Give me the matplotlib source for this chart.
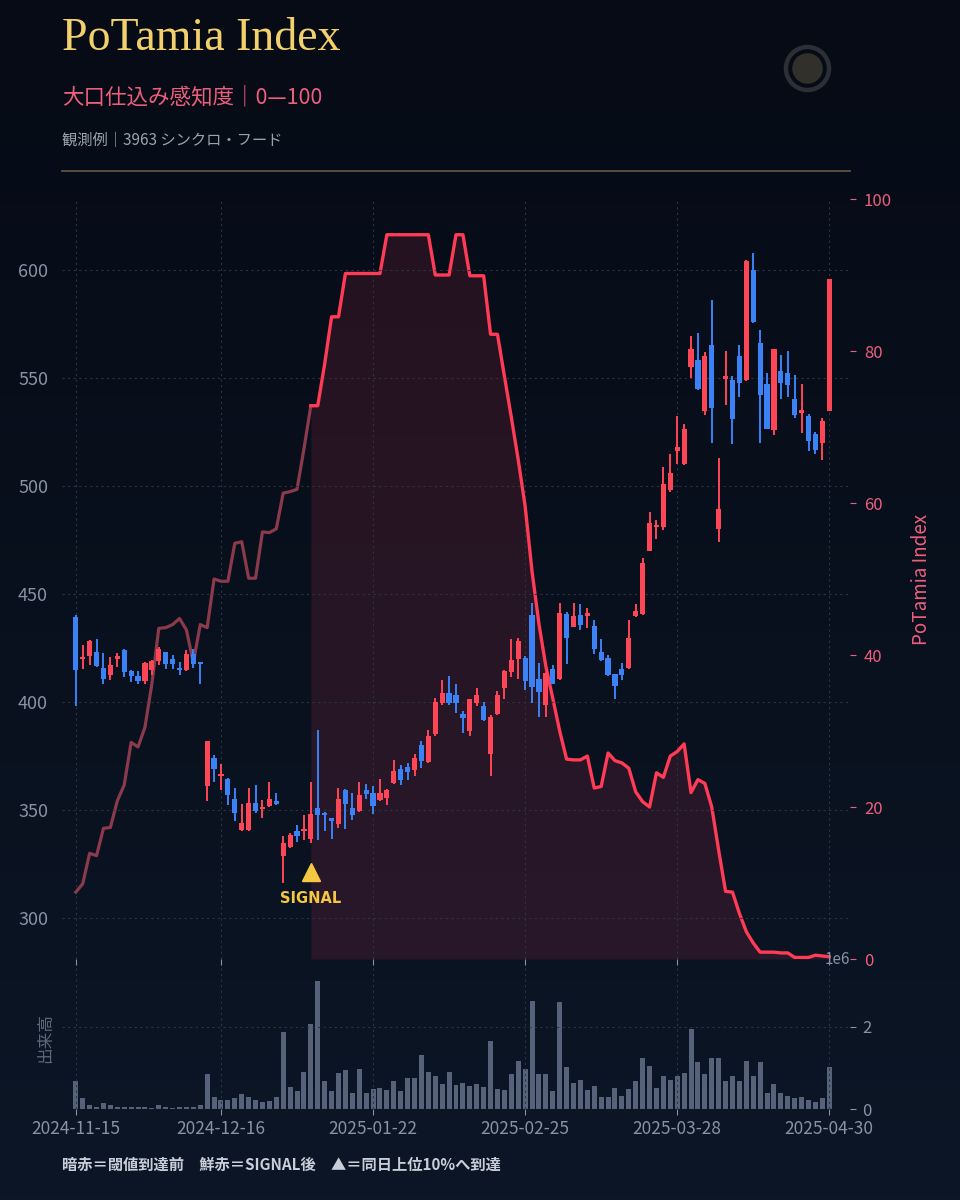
import numpy as np
import matplotlib
matplotlib.use("Agg")
import matplotlib.pyplot as plt
from matplotlib.lines import Line2D
from matplotlib.colors import LinearSegmentedColormap

plt.rcParams['font.family'] = ['Noto Sans CJK JP', 'DejaVu Sans']

# ---- data ----
date_labels = ['2024-11-15', '2024-12-16', '2025-01-22', '2025-02-25', '2025-03-28', '2025-04-30']

opens = [439.2, 419.8, 421.3, 423.0, 415.9, 412.5, 419.8, 424.1, 414.5, 412.3,
         409.6, 414.8, 419.0, 423.0, 420.0, 415.9, 414.8, 422.2, 418.2, 361.1,
         373.9, 365.9, 364.2, 355.0, 340.7, 340.7, 353.1, 350.3, 352.0, 354.2,
         328.7, 332.7, 340.4, 340.1, 336.4, 350.8, 348.8, 346.0, 343.5, 359.3,
         350.8, 349.7, 359.3, 357.7, 354.6, 355.4, 362.4, 369.0, 369.8, 368.5,
         380.1, 372.3, 385.0, 399.4, 404.0, 403.2, 394.3, 386.7, 399.4, 398.3,
         375.8, 394.4, 406.3, 413.7, 419.8, 420.2, 440.3, 410.9, 398.6, 415.1,
         410.6, 441.0, 434.9, 440.3, 439.9, 435.1, 423.0, 420.2, 412.9, 415.1,
         415.6, 439.9, 440.8, 470.1, 481.0, 480.9, 498.4, 516.5, 510.2, 555.2,
         558.3, 534.9, 565.3, 480.0, 549.7, 549.4, 560.2, 549.1, 600.3, 566.1,
         547.1, 525.9, 553.4, 552.2, 540.2, 534.0, 532.6, 524.1, 519.8, 534.9]
highs = [440.3, 426.4, 428.8, 429.0, 422.5, 421.0, 422.8, 424.5, 414.8, 414.3,
         418.6, 419.5, 425.4, 423.3, 421.8, 418.6, 424.1, 424.8, 418.4, 382.1,
         375.4, 371.3, 364.7, 360.2, 352.6, 360.2, 361.4, 354.6, 362.8, 357.9,
         338.0, 339.2, 343.1, 347.7, 362.8, 387.0, 349.0, 346.2, 360.0, 359.6,
         357.7, 362.8, 361.9, 361.1, 364.2, 359.6, 373.1, 370.8, 371.6, 375.9,
         382.1, 387.0, 401.7, 410.2, 412.2, 408.2, 396.0, 401.5, 406.3, 399.9,
         394.0, 405.0, 414.8, 429.0, 429.9, 421.3, 445.7, 417.9, 414.0, 417.1,
         446.0, 441.8, 446.0, 445.4, 443.4, 438.2, 429.0, 421.8, 413.2, 417.9,
         438.2, 445.3, 466.8, 488.1, 484.2, 508.9, 515.0, 532.3, 529.0, 569.4,
         570.9, 562.2, 586.1, 512.9, 562.6, 550.9, 565.3, 604.6, 608.0, 572.3,
         552.2, 563.6, 560.6, 562.6, 551.4, 547.3, 533.3, 525.2, 531.4, 596.1]
lows = [398.1, 415.1, 417.1, 416.4, 408.3, 410.2, 416.4, 411.4, 409.4, 408.3,
        408.3, 412.5, 417.1, 415.3, 415.3, 412.5, 414.2, 415.6, 408.3, 354.3,
        363.1, 359.1, 352.3, 345.1, 340.4, 340.4, 348.5, 346.2, 351.5, 352.3,
        316.0, 332.2, 335.4, 336.2, 334.9, 336.2, 340.4, 336.4, 341.5, 341.0,
        345.4, 348.9, 355.1, 348.1, 354.0, 352.3, 362.1, 361.7, 363.9, 365.6,
        369.3, 371.9, 384.5, 398.6, 398.8, 395.0, 385.8, 384.4, 398.1, 391.2,
        365.6, 393.9, 401.2, 411.7, 410.9, 405.6, 399.4, 393.2, 393.2, 408.3,
        410.3, 417.6, 434.6, 433.3, 434.1, 422.2, 419.0, 412.0, 401.2, 410.2,
        415.3, 439.6, 440.5, 469.8, 475.3, 479.9, 497.3, 510.2, 509.9, 550.3,
        544.5, 532.9, 520.0, 474.3, 537.6, 519.4, 541.4, 548.8, 575.8, 520.0,
        526.4, 523.6, 540.6, 541.4, 531.4, 524.4, 516.3, 515.1, 512.3, 534.9]
closes = [414.8, 421.0, 428.4, 416.8, 410.5, 417.1, 421.3, 414.0, 412.0, 409.9,
          417.9, 419.1, 424.4, 417.6, 417.6, 414.8, 422.2, 417.6, 417.5, 382.1,
          368.8, 366.7, 356.9, 348.5, 343.8, 353.1, 349.7, 351.0, 355.1, 352.8,
          334.9, 338.4, 338.0, 340.7, 348.0, 347.7, 347.8, 345.1, 354.9, 352.6,
          347.7, 356.9, 357.4, 351.9, 358.0, 359.3, 368.2, 363.9, 367.7, 373.9,
          372.8, 384.3, 399.9, 404.0, 399.4, 399.4, 392.8, 401.2, 403.2, 391.7,
          393.2, 403.2, 414.5, 419.4, 428.4, 409.9, 406.8, 404.7, 413.6, 408.6,
          441.4, 429.9, 440.0, 435.6, 441.1, 424.8, 419.4, 412.5, 407.6, 412.5,
          429.9, 442.4, 464.2, 483.0, 482.2, 501.2, 506.1, 518.1, 526.4, 563.3,
          544.8, 560.2, 536.0, 489.2, 550.9, 530.9, 547.8, 604.3, 576.1, 542.2,
          526.7, 563.3, 547.8, 546.8, 532.9, 535.2, 521.0, 516.7, 530.3, 596.1]

potamia = [8.8, 9.9, 13.9, 13.6, 17.2, 17.3, 20.8, 22.9, 28.5, 27.9,
           30.5, 36.2, 43.5, 43.6, 44.0, 44.8, 43.3, 39.0, 44.0, 43.6,
           50.0, 49.7, 49.7, 54.7, 54.9, 50.1, 50.1, 56.2, 56.1, 56.6,
           61.3, 61.5, 61.8, 67.1, 72.8, 72.8, 78.3, 84.5, 84.5, 90.2,
           90.2, 90.2, 90.2, 90.2, 90.2, 95.3, 95.3, 95.3, 95.3, 95.3,
           95.3, 95.3, 90.0, 90.0, 90.0, 95.3, 95.3, 89.9, 89.9, 89.9,
           82.2, 82.2, 76.7, 71.3, 65.7, 59.6, 51.0, 44.1, 38.5, 34.3,
           30.0, 26.3, 26.2, 26.2, 26.7, 22.5, 22.7, 27.1, 26.1, 25.8,
           25.1, 22.0, 20.7, 20.0, 24.5, 23.9, 26.7, 27.3, 28.3, 21.9,
           23.6, 23.1, 20.0, 14.3, 8.9, 8.8, 6.0, 3.6, 2.1, 0.9,
           0.9, 0.9, 0.8, 0.8, 0.2, 0.2, 0.2, 0.5, 0.4, 0.3]

volume = [0.67, 0.26, 0.10, 0.06, 0.14, 0.10, 0.05, 0.06, 0.06, 0.06,
          0.06, 0.03, 0.10, 0.06, 0.02, 0.04, 0.04, 0.04, 0.09, 0.86,
          0.28, 0.22, 0.22, 0.26, 0.36, 0.28, 0.22, 0.18, 0.20, 0.30,
          1.86, 0.54, 0.44, 0.90, 2.07, 3.11, 0.67, 0.43, 0.87, 0.94,
          0.40, 0.98, 0.40, 0.48, 0.52, 0.47, 0.67, 0.43, 0.76, 0.75,
          1.30, 0.89, 0.81, 0.60, 0.89, 0.58, 0.63, 0.55, 0.60, 0.53,
          1.66, 0.49, 0.45, 0.86, 1.17, 0.96, 2.61, 0.84, 0.86, 0.43,
          2.59, 1.03, 0.64, 0.70, 0.47, 0.55, 0.28, 0.28, 0.51, 0.32,
          0.49, 0.67, 1.24, 1.04, 0.51, 0.81, 0.70, 0.79, 0.88, 1.94,
          1.13, 0.85, 1.24, 1.24, 0.68, 0.81, 0.67, 1.17, 0.79, 1.13,
          0.39, 0.60, 0.39, 0.31, 0.26, 0.30, 0.21, 0.17, 0.27, 1.02]
volume = [v * 1e6 for v in volume]

signal_idx = 34

# ---- colours ----
BG_TOP = '#060b15'
BG_BOT = '#0c1626'
GOLD = '#f2d06b'
PINK = '#ec5f7c'
RED = '#ff4656'
BLUE = '#3b82f6'
LINE_RED = '#ff3b55'
GRAY = '#8892a4'
GRID = '#2a3447'

n = len(closes)
x = np.arange(n)
o = np.array(opens); h = np.array(highs); l = np.array(lows); c = np.array(closes)
up = c >= o
cols = np.where(up, RED, BLUE)

fig = plt.figure(figsize=(9.6, 12), dpi=100)

# background gradient
bg = fig.add_axes([0, 0, 1, 1], zorder=-10)
grad = np.linspace(0, 1, 256).reshape(-1, 1)
cmap = LinearSegmentedColormap.from_list('bg', [BG_TOP, BG_BOT])
bg.imshow(grad, aspect='auto', cmap=cmap, extent=[0, 1, 1, 0])
bg.axis('off')

# header
fig.text(62/960, 1 - 50/1200, 'PoTamia Index', color=GOLD, fontsize=33,
         family=['Liberation Serif', 'DejaVu Serif'], ha='left', va='baseline')
fig.text(62/960, 1 - 103/1200, '大口仕込み感知度｜0—100', color=PINK, fontsize=15.5,
         ha='left', va='baseline')
fig.text(62/960, 1 - 145/1200, '観測例｜3963 シンクロ・フード', color='#9aa2ae', fontsize=11,
         ha='left', va='baseline')
fig.add_artist(Line2D([62/960, 850/960], [1 - 171/1200, 1 - 171/1200], color='#5e5540',
                      lw=1.3, transform=fig.transFigure))
# round badge: outer ring + inner disc
fig.add_artist(Line2D([807/960], [1 - 68/1200], marker='o', markersize=31,
                      markerfacecolor='none', markeredgecolor='#2c3036',
                      markeredgewidth=3.2, transform=fig.transFigure))
fig.add_artist(Line2D([807/960], [1 - 68/1200], marker='o', markersize=22,
                      markerfacecolor='#31302b', markeredgecolor='none',
                      transform=fig.transFigure))

# main axes: index on the base axes (right side), price on twin (left side)
ax_idx = fig.add_axes([62/960, 1 - 959/1200, 788/960, 760/1200])
ax_idx.set_facecolor('none')
ax = ax_idx.twinx()

ax_idx.plot(x[:signal_idx + 1], potamia[:signal_idx + 1], color='#8a3a4b', lw=2.3,
            solid_joinstyle='round')
ax_idx.plot(x[signal_idx:], potamia[signal_idx:], color=LINE_RED, lw=2.4,
            solid_joinstyle='round')
ax_idx.fill_between(x[signal_idx:], 0, potamia[signal_idx:], color='#ff3b5c', alpha=0.12, lw=0)
ax_idx.set_ylim(0, 100)
ax_idx.yaxis.tick_right()
ax_idx.yaxis.set_label_position('right')
ax_idx.set_yticks([0, 20, 40, 60, 80, 100])
ax_idx.tick_params(axis='y', colors=PINK, labelsize=12, length=4, pad=6)
ax_idx.set_ylabel('PoTamia Index', color=PINK, fontsize=13.5, labelpad=14)
ax_idx.tick_params(axis='x', colors=GRAY, length=4, labelbottom=False)

# candles
ax.vlines(x, l, h, colors=cols, lw=1.4, zorder=3)
body_lo = np.minimum(o, c)
body_h = np.maximum(np.abs(c - o), 1.0)
ax.bar(x, body_h, bottom=body_lo, width=0.75, color=cols, zorder=4, lw=0)

# signal marker
ax.plot([signal_idx], [lows[signal_idx] * 0.96], marker='^', markersize=13, color='#f5c842',
        lw=0, zorder=5)
ax.text(signal_idx, lows[signal_idx] * 0.96 - 9, 'SIGNAL', color='#f5c842', fontsize=10.5,
        fontweight='bold', ha='center', va='top', family=['DejaVu Sans'], zorder=5)

ax.set_ylim(281, 633)
ax.yaxis.tick_left()
ax.set_yticks([300, 350, 400, 450, 500, 550, 600])
ax.tick_params(axis='y', colors=GRAY, labelsize=13, length=0, pad=10)
ax.grid(axis='y', color=GRID, ls=(0, (2, 3)), lw=0.8)

ax_idx.set_xlim(-2, n + 2)
ticks = np.linspace(0, n - 1, 6).astype(int)
ax_idx.set_xticks(ticks)
ax_idx.grid(axis='x', color=GRID, ls=(0, (2, 3)), lw=0.8)
for a in (ax, ax_idx):
    for s in a.spines.values():
        s.set_visible(False)

# volume
axv = fig.add_axes([62/960, 1 - 1109/1200, 788/960, 141/1200])
axv.set_facecolor('none')
axv.bar(x, volume, width=0.72, color='#56627a', lw=0)
axv.set_xlim(-2, n + 2)
axv.set_ylim(0, max(volume) * 1.1)
axv.yaxis.tick_right()
axv.set_yticks([0, 2e6])
axv.yaxis.set_label_position('left')
axv.set_ylabel('出来高', color='#5d6878', fontsize=12, labelpad=6)
axv.tick_params(axis='y', colors=GRAY, labelsize=12, length=4, pad=5)
axv.yaxis.get_offset_text().set_color(GRAY)
axv.yaxis.get_offset_text().set_fontsize(11)
axv.set_xticks(ticks)
axv.set_xticklabels(date_labels)
axv.tick_params(axis='x', colors=GRAY, labelsize=12.5, length=4, pad=4)
axv.grid(color=GRID, ls=(0, (2, 3)), lw=0.8)
for s in axv.spines.values():
    s.set_visible(False)

fig.text(62/960, 1 - 1170/1200, '暗赤＝閾値到達前　鮮赤＝SIGNAL後　▲＝同日上位10%へ到達',
         color='#c9ced8', fontsize=11, fontweight='bold', ha='left', va='baseline')

fig.savefig('out.png', dpi=100, facecolor=BG_TOP)
